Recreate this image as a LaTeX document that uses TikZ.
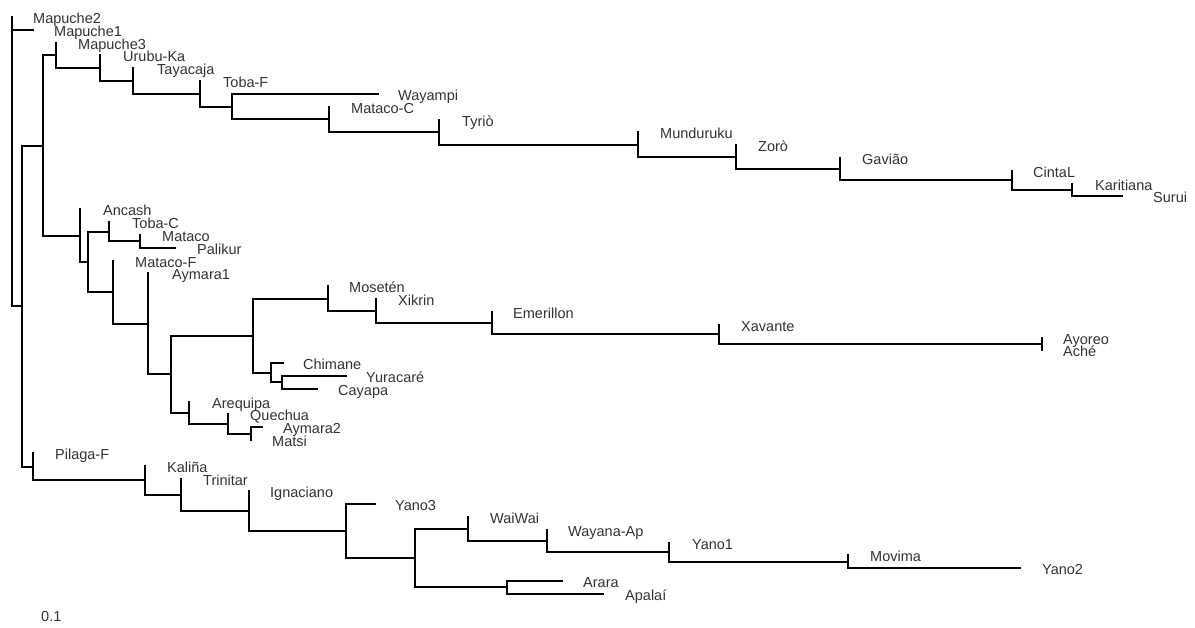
\documentclass[tikz,border=0pt]{standalone}
\usepackage{fontspec}
\setmainfont{Liberation Sans}
\tikzset{
  lab/.style={anchor=base west, inner sep=0pt, text=black!80, font=\fontsize{14.5}{16}\selectfont},
  br/.style={line width=2pt, line cap=rect, draw=black},
}
\newcommand{\clade}[3]{\draw[br] (#1 |- #2) -- (#1 |- #3) (#1 |- #2) -- (#2) (#1 |- #3) -- (#3);}
\newcommand{\leaf}[5]{\coordinate (#1) at (#2,#3); \node[lab] (l#1) at (#4,#3+6.5) {#5};}
\begin{document}
\begin{tikzpicture}[x=1pt,y=-1pt]
\fill[white] (0,0) rectangle (1195,628);
\useasboundingbox (0,0) rectangle (1195,628);
% leaves: name, tip x, y, label x, text
\leaf{t0}{12}{17}{33}{Mapuche2}
\leaf{t1}{33}{30}{54}{Mapuche1}
\leaf{t2}{56}{43}{78}{Mapuche3}
\leaf{t3}{100}{55}{123}{Urubu-Ka}
\leaf{t4}{133}{68}{157}{Tayacaja}
\leaf{t5}{200}{81}{223}{Toba-F}
\leaf{t6}{378}{94}{398}{Wayampi}
\leaf{t7}{329}{107}{351}{Mataco-C}
\leaf{t8}{439}{120}{462}{Tyriò}
\leaf{t9}{638}{132}{660}{Munduruku}
\leaf{t10}{736}{145}{758}{Zorò}
\leaf{t11}{840}{158}{862}{Gavião}
\leaf{t12}{1012}{171}{1033}{CintaL}
\leaf{t13}{1072}{184}{1095}{Karitiana}
\leaf{t14}{1122}{196}{1153}{Surui}
\leaf{t15}{80}{209}{103}{Ancash}
\leaf{t16}{109}{222}{132}{Toba-C}
\leaf{t17}{140}{235}{162}{Mataco}
\leaf{t18}{175}{248}{197}{Palikur}
\leaf{t19}{113}{261}{135}{Mataco-F}
\leaf{t20}{148}{273}{172}{Aymara1}
\leaf{t21}{328}{286}{349}{Mosetén}
\leaf{t22}{376}{299}{398}{Xikrin}
\leaf{t23}{492}{312}{513}{Emerillon}
\leaf{t24}{719}{325}{741}{Xavante}
\leaf{t25}{1042}{338}{1063}{Ayoreo}
\leaf{t26}{1042}{350}{1063}{Aché}
\leaf{t27}{283}{363}{303}{Chimane}
\leaf{t28}{346}{376}{366}{Yuracaré}
\leaf{t29}{317}{389}{338}{Cayapa}
\leaf{t30}{189}{402}{212}{Arequipa}
\leaf{t31}{228}{414}{250}{Quechua}
\leaf{t32}{262}{427}{283}{Aymara2}
\leaf{t33}{251}{440}{272}{Matsi}
\leaf{t34}{33}{453}{55}{Pilaga-F}
\leaf{t35}{145}{466}{167}{Kaliña}
\leaf{t36}{181}{479}{203}{Trinitar}
\leaf{t37}{249}{491}{270}{Ignaciano}
\leaf{t38}{375}{504}{395}{Yano3}
\leaf{t39}{468}{517}{490}{WaiWai}
\leaf{t40}{547}{530}{568}{Wayana-Ap}
\leaf{t41}{669}{543}{692}{Yano1}
\leaf{t42}{848}{555}{870}{Movima}
\leaf{t43}{1020}{568}{1042}{Yano2}
\leaf{t44}{562}{581}{583}{Arara}
\leaf{t45}{603}{594}{625}{Apalaí}
% internal nodes
\coordinate (N17) at (1072,190);
\coordinate (N16) at (1012,180);
\coordinate (N15) at (840,169);
\coordinate (N14) at (736,157);
\coordinate (N13) at (638,145);
\coordinate (N12) at (439,132);
\coordinate (N11) at (329,119);
\coordinate (N10) at (232,107);
\coordinate (N9) at (200,94);
\coordinate (N8) at (133,81);
\coordinate (N7) at (100,68);
\coordinate (N5) at (56,55);
\coordinate (a140) at (140,241);
\coordinate (a109) at (109,232);
\coordinate (T) at (251,434);
\coordinate (S) at (228,424);
\coordinate (R) at (189,413);
\coordinate (M5) at (1042,344);
\coordinate (M4) at (719,334);
\coordinate (M3) at (492,323);
\coordinate (M2) at (376,311);
\coordinate (M1) at (328,299);
\coordinate (C2) at (282,382);
\coordinate (C1) at (271,373);
\coordinate (P) at (253,336);
\coordinate (Q) at (171,374);
\coordinate (a148) at (148,324);
\coordinate (a113) at (113,292);
\coordinate (a88) at (88,262);
\coordinate (a80) at (80,236);
\coordinate (N2) at (43,146);
\coordinate (K10) at (848,562);
\coordinate (K9) at (669,552);
\coordinate (K8) at (547,541);
\coordinate (K6) at (468,529);
\coordinate (K7) at (507,587);
\coordinate (K5) at (415,558);
\coordinate (K4) at (346,531);
\coordinate (K3) at (249,511);
\coordinate (K2) at (181,495);
\coordinate (N4) at (145,480);
\coordinate (N3) at (33,467);
\coordinate (N1) at (22,306);
\coordinate (root) at (12,161);
% clades
\clade{N17}{t13}{t14}
\clade{N16}{t12}{N17}
\clade{N15}{t11}{N16}
\clade{N14}{t10}{N15}
\clade{N13}{t9}{N14}
\clade{N12}{t8}{N13}
\clade{N11}{t7}{N12}
\clade{N10}{t6}{N11}
\clade{N9}{t5}{N10}
\clade{N8}{t4}{N9}
\clade{N7}{t3}{N8}
\clade{N5}{t2}{N7}
\clade{a140}{t17}{t18}
\clade{a109}{t16}{a140}
\clade{T}{t32}{t33}
\clade{S}{t31}{T}
\clade{R}{t30}{S}
\clade{M5}{t25}{t26}
\clade{M4}{t24}{M5}
\clade{M3}{t23}{M4}
\clade{M2}{t22}{M3}
\clade{M1}{t21}{M2}
\clade{C2}{t28}{t29}
\clade{C1}{t27}{C2}
\clade{P}{M1}{C1}
\clade{Q}{P}{R}
\clade{a148}{t20}{Q}
\clade{a113}{t19}{a148}
\clade{a88}{a109}{a113}
\clade{a80}{t15}{a88}
\clade{N2}{N5}{a80}
\clade{K10}{t42}{t43}
\clade{K9}{t41}{K10}
\clade{K8}{t40}{K9}
\clade{K6}{t39}{K8}
\clade{K7}{t44}{t45}
\clade{K5}{K6}{K7}
\clade{K4}{t38}{K5}
\clade{K3}{t37}{K4}
\clade{K2}{t36}{K3}
\clade{N4}{t35}{K2}
\clade{N3}{t34}{N4}
\clade{N1}{N2}{N3}
\draw[br] (root |- t0) -- (root |- N1) (root |- t1) -- (t1) (root |- N1) -- (N1);
% scale
\node[lab] (scale) at (41,621) {0.1};
\end{tikzpicture}
\end{document}
